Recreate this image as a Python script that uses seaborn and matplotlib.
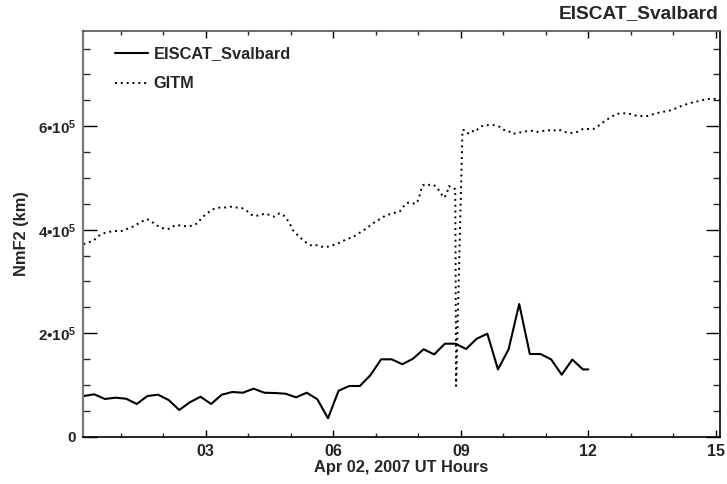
import numpy as np
import pandas as pd
import matplotlib
matplotlib.use("Agg")
import matplotlib.pyplot as plt
import seaborn as sns
from matplotlib.ticker import MultipleLocator, FixedLocator

# ---------------- data ----------------
eiscat_hours = [0.125, 0.375, 0.625, 0.875, 1.125, 1.375, 1.625, 1.875, 2.125, 2.375,
                2.625, 2.875, 3.125, 3.375, 3.625, 3.875, 4.125, 4.375, 4.625, 4.875,
                5.125, 5.375, 5.625, 5.875, 6.125, 6.375, 6.625, 6.875, 7.125, 7.375,
                7.625, 7.875, 8.125, 8.375, 8.625, 8.875, 9.125, 9.375, 9.625, 9.875,
                10.125, 10.375, 10.625, 10.875, 11.125, 11.375, 11.625, 11.875, 12.0]
eiscat_nmf2 = [78.6e3, 81.9e3, 72.9e3, 75.4e3, 73.4e3, 63.2e3, 78.6e3, 81.2e3, 70.9e3, 51.6e3,
               66.5e3, 77.3e3, 63.2e3, 81.2e3, 86.4e3, 85.0e3, 92.8e3, 85.0e3, 84.4e3, 83.1e3,
               76.1e3, 85.0e3, 72.3e3, 35.6e3, 88.9e3, 98.0e3, 98.0e3, 119e3, 149.5e3, 149.5e3,
               140e3, 150.7e3, 168.9e3, 159e3, 179.7e3, 179.7e3, 169.5e3, 189.4e3, 199e3, 130e3,
               168.9e3, 256.4e3, 159.8e3, 159.8e3, 149.5e3, 119.8e3, 149e3, 130e3, 130e3]

gitm_hours = [0.12, 0.24, 0.36, 0.45, 0.55, 0.67, 0.80, 0.93, 1.05, 1.16, 1.28, 1.39, 1.50,
              1.61, 1.72, 1.83, 1.94, 2.05, 2.16, 2.27, 2.38, 2.50, 2.61, 2.72, 2.83, 2.88,
              2.99, 3.10, 3.20, 3.34, 3.46, 3.59, 3.71, 3.84, 3.95, 4.04, 4.15, 4.28, 4.40,
              4.51, 4.62, 4.73, 4.84, 4.92, 4.99, 5.05, 5.12, 5.22, 5.31, 5.41, 5.52, 5.63,
              5.74, 5.86, 5.99, 6.12, 6.22, 6.34, 6.46, 6.57, 6.68, 6.79, 6.89, 6.99, 7.10,
              7.21, 7.32, 7.45, 7.56, 7.65, 7.73, 7.83, 7.94, 8.00, 8.07, 8.11, 8.20, 8.28,
              8.36, 8.44, 8.53, 8.61, 8.67, 8.72, 8.81, 8.87, 8.89, 9.04, 9.10, 9.18, 9.26,
              9.34, 9.44, 9.55, 9.67, 9.78, 9.91, 10.02, 10.12, 10.22, 10.33, 10.46, 10.57,
              10.68, 10.80, 10.93, 11.04, 11.16, 11.29, 11.40, 11.52, 11.64, 11.74, 11.87,
              12.00, 12.12, 12.21, 12.32, 12.42, 12.53, 12.65, 12.79, 12.91, 13.02, 13.14,
              13.26, 13.38, 13.52, 13.65, 13.77, 13.89, 14.00, 14.12, 14.25, 14.38, 14.49,
              14.63, 14.77, 14.88, 15.01, 15.10]
gitm_nmf2 = [372e3, 375.6e3, 378.8e3, 386.5e3, 391.7e3, 395e3, 397e3, 397.5e3, 397.5e3, 402e3,
             405.8e3, 411e3, 416e3, 420.7e3, 416e3, 409e3, 404.6e3, 401e3, 402e3, 408.5e3,
             408.5e3, 407e3, 406.6e3, 409e3, 413.5e3, 421e3, 429e3, 436e3, 440.6e3, 443e3,
             443e3, 444.4e3, 443e3, 442e3, 438e3, 430e3, 426.5e3, 428e3, 431.6e3, 428e3,
             425e3, 431.6e3, 427e3, 418.7e3, 409e3, 399e3, 393e3, 385e3, 378.7e3, 372e3,
             368.5e3, 370.4e3, 367e3, 367e3, 370e3, 373.7e3, 378e3, 382.6e3, 385.3e3, 391.7e3,
             397e3, 403e3, 409.7e3, 415.5e3, 420.7e3, 426.5e3, 429.7e3, 432.9e3, 434.8e3,
             444.4e3, 452e3, 452e3, 449.6e3, 457.4e3, 478e3, 486.4e3, 484.4e3, 487.7e3,
             486.4e3, 482e3, 470.3e3, 461.8e3, 470e3, 484.4e3, 479e3, 479e3, 98e3, 592.7e3,
             592.7e3, 586e3, 591e3, 589e3, 598e3, 602e3, 602e3, 602e3, 599e3, 592.7e3, 591e3,
             585e3, 587e3, 589e3, 590.7e3, 591e3, 589e3, 590.7e3, 592.7e3, 590.7e3, 594e3,
             590.7e3, 587e3, 587e3, 589e3, 594.6e3, 594.6e3, 594.6e3, 599e3, 605.6e3, 612e3,
             617e3, 623.6e3, 625e3, 625e3, 623e3, 620e3, 619.7e3, 619.7e3, 623e3, 626e3,
             628e3, 629.4e3, 632.6e3, 636.5e3, 641e3, 644e3, 647e3, 649e3, 652e3, 653e3,
             653e3, 650.6e3]

x_major_ticks = [3, 6, 9, 12, 15]
x_tick_labels = ["03", "06", "09", "12", "15"]
y_major_ticks = [0, 2e5, 4e5, 6e5]
y_tick_labels = ["0", "2•10$^5$", "4•10$^5$", "6•10$^5$"]

title_text = "EISCAT_Svalbard"
xlabel_text = "Apr 02, 2007 UT Hours"
ylabel_text = "NmF2 (km)"

# ---------------- style ----------------
sns.set_style("ticks")
plt.rcParams["font.family"] = ["Liberation Sans", "DejaVu Sans"]
plt.rcParams["font.weight"] = "bold"
plt.rcParams["mathtext.fontset"] = "custom"
plt.rcParams["mathtext.rm"] = "Liberation Sans:bold"
plt.rcParams["mathtext.it"] = "Liberation Sans:bold"
plt.rcParams["mathtext.bf"] = "Liberation Sans:bold"
plt.rcParams["mathtext.default"] = "rm"

fig = plt.figure(figsize=(7.27, 4.84), dpi=100)
ax = fig.add_axes([83 / 727, 1 - 436.7 / 484, (720 - 83) / 727, (436.7 - 31) / 484])

df_e = pd.DataFrame({"hour": eiscat_hours, "nmf2": eiscat_nmf2})
df_g = pd.DataFrame({"hour": gitm_hours, "nmf2": gitm_nmf2})

sns.lineplot(data=df_e, x="hour", y="nmf2", ax=ax, color="black", lw=1.5,
             label="EISCAT_Svalbard", sort=False, estimator=None)
sns.lineplot(data=df_g, x="hour", y="nmf2", ax=ax, color="black", lw=1.4,
             dashes=False, label="GITM", sort=False, estimator=None)
ax.lines[1].set_dashes((1, 2))

ax.set_xlim(0.11, 15.1)
ax.set_ylim(0, 7.84e5)

ax.xaxis.set_major_locator(FixedLocator(x_major_ticks))
ax.set_xticklabels(x_tick_labels)
ax.xaxis.set_minor_locator(MultipleLocator(1))
ax.yaxis.set_major_locator(FixedLocator(y_major_ticks))
ax.set_yticklabels(y_tick_labels)
ax.yaxis.set_minor_locator(MultipleLocator(0.5e5))

ax.tick_params(axis="x", which="major", direction="in", length=5, width=1, top=True,
               labelsize=11.5, pad=5, color="black")
ax.tick_params(axis="x", which="minor", direction="in", length=2.6, width=1, top=True)
ax.tick_params(axis="y", which="major", direction="in", length=10, width=1, right=True,
               labelsize=11, pad=5, color="black")
ax.tick_params(axis="y", which="minor", direction="in", length=5, width=1, right=True)
for lab in ax.get_xticklabels() + ax.get_yticklabels():
    lab.set_fontweight("bold")

for side in ["top", "right", "bottom", "left"]:
    ax.spines[side].set_visible(True)
    ax.spines[side].set_linewidth(1.2)
    ax.spines[side].set_color("black")
ax.spines["left"].set_color("#777777")
ax.spines["left"].set_linewidth(1.6)
ax.spines["top"].set_color("#555555")

ax.set_xlabel(xlabel_text, fontsize=11.8, fontweight="bold", labelpad=1)
ax.set_ylabel(ylabel_text, fontsize=11.8, fontweight="bold", labelpad=6)
fig.text(718 / 727, 1 - 14 / 484, title_text, ha="right", va="center",
         fontsize=13.8, fontweight="bold")

leg = ax.legend(loc="upper left", bbox_to_anchor=(0.027, 0.998), frameon=False,
                handlelength=2.0, handletextpad=0.35, labelspacing=0.9,
                prop={"weight": "bold", "size": 11.8})

fig.savefig("out.png", dpi=100)
